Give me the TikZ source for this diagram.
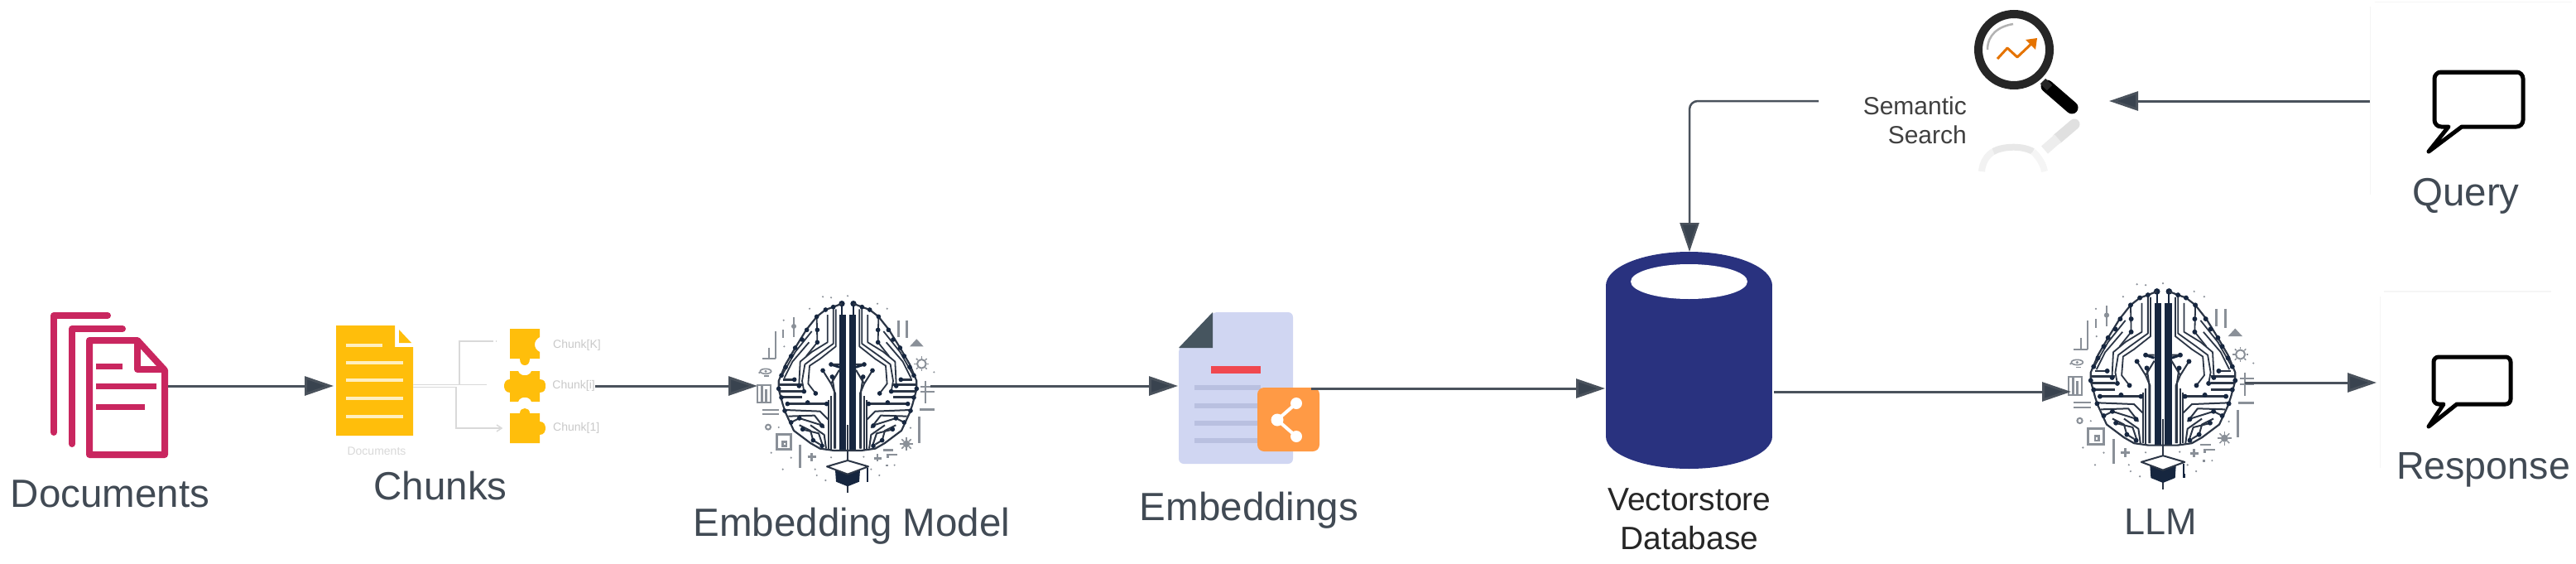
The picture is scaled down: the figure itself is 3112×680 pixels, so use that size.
\documentclass[tikz,border=0pt]{standalone}
\usepackage{fontspec}
\setmainfont{Liberation Sans}
\usetikzlibrary{arrows.meta}
\definecolor{labelc}{HTML}{414A54}
\definecolor{connc}{HTML}{4A525C}
\definecolor{headc}{HTML}{39434F}
\definecolor{crim}{HTML}{C9265F}
\definecolor{amber}{HTML}{FFBE0B}
\definecolor{amberl}{HTML}{FFEFC0}
\definecolor{navy}{HTML}{29327F}
\definecolor{sheet}{HTML}{D0D6F2}
\definecolor{sheetl}{HTML}{B9C0E0}
\definecolor{foldc}{HTML}{46555F}
\definecolor{redbar}{HTML}{F0484F}
\definecolor{badge}{HTML}{FF9A45}
\definecolor{brainc}{HTML}{16263F}
\definecolor{traceg}{HTML}{2C3646}
\definecolor{decog}{HTML}{8A9098}
\definecolor{treeg}{HTML}{D9D9D9}
\definecolor{fainttext}{HTML}{C9C9C9}
\definecolor{panelg}{HTML}{F5F5F5}
\tikzset{
  portbox/.style={inner sep=0pt,outer sep=0pt},
  lbl/.style={anchor=base,inner sep=0pt,text=labelc,font=\fontsize{47.5}{57}\selectfont},
  dbl/.style={anchor=base,inner sep=0pt,text=black!85,font=\fontsize{39}{47}\selectfont},
  sem/.style={anchor=base east,inner sep=0pt,text=black!75,font=\fontsize{30}{36}\selectfont},
  tiny/.style={anchor=west,inner sep=0pt,text=fainttext,font=\fontsize{14}{16}\selectfont},
  conn/.style={draw=connc,line width=3pt,-{Triangle[length=35pt,width=23pt,fill=headc]}},
  tree/.style={draw=treeg,line width=1.5pt},
  docline/.style={draw=crim,line width=8pt,line join=round},
  ambline/.style={draw=amberl,line width=4pt},
  bubble/.style={draw=black,line width=5pt,fill=white,line join=round},
}
\newcommand\brainhalf{%
  \fill[brainc] (6,90) rectangle (30,580);
  \fill[brainc] (21,50) circle (11);
  \draw[brainc,line width=2pt] (21,50) -- (21,90);
  % outline
  \draw[traceg,line width=2.2pt,line join=round] (21,50) -- (52,62) -- (80,72) -- (112,97) -- (150,145) -- (190,210) -- (225,270) -- (250,330) -- (250,360) -- (235,415) -- (225,445) -- (195,510) -- (135,555) -- (100,575) -- (50,582) -- (0,582);
  % long traces from the crown
  \draw[traceg,line width=1.8pt,line join=round] (43,70) -- (43,205) -- (100,250) -- (138,275) -- (143,340) -- (116,375);
  \draw[traceg,line width=1.8pt,line join=round] (52,62) -- (52,195) -- (115,240) -- (155,270) -- (165,330) -- (158,368);
  \draw[traceg,line width=1.8pt,line join=round] (73,90) -- (73,190) -- (130,225) -- (172,260) -- (176,340);
  \draw[traceg,line width=1.8pt,line join=round] (112,97) -- (110,190) -- (150,240);
  \draw[traceg,line width=1.8pt,line join=round] (130,150) -- (190,225) -- (238,310);
  \draw[traceg,line width=1.8pt,line join=round] (140,190) -- (200,260) -- (230,320);
  % short right-angle branches near the bars
  \draw[brainc,line width=3pt] (30,280) -- (60,270);
  \draw[traceg,line width=2pt] (30,290) -- (60,340) (60,270) -- (30,270) (90,292) -- (60,340) -- (45,375) -- (45,575);
  \draw[traceg,line width=2pt] (56,315) -- (48,370) -- (48,575);
  \draw[traceg,line width=2pt] (60,385) -- (60,578) (70,400) -- (70,575);
  % horizontal rungs of the side lobe
  \draw[traceg,line width=3pt] (165,345) -- (248,345) (165,368) -- (250,368) (165,390) -- (245,390);
  \draw[traceg,line width=2.5pt] (193,325) -- (235,325) (76,413) -- (218,413) (145,408) -- (145,413);
  % lower traces
  \draw[traceg,line width=2pt,line join=round] (70,470) -- (100,440) -- (228,435);
  \draw[traceg,line width=2pt,line join=round] (85,500) -- (120,455) -- (215,458);
  \draw[traceg,line width=2pt,line join=round] (95,490) -- (175,465) -- (205,480);
  \draw[traceg,line width=2pt,line join=round] (90,565) -- (105,520) -- (165,505);
  \draw[traceg,line width=2pt,line join=round] (100,560) -- (125,545) -- (135,510) -- (175,490);
  \draw[traceg,line width=2pt,line join=round] (78,575) -- (85,525) -- (135,490);
  % dots
  \foreach \dx/\dy in {52/62,80/72,112/97,110/145,110/190,148/145,165/180,190/210,205/240,225/280,240/310,60/270,90/292,56/315,116/375,158/368,176/348,193/325,250/358,240/390,76/413,145/408,218/413,228/438,175/465,205/480,163/505,93/492,125/545,93/565}
    \fill[brainc] (\dx,\dy) circle (8.5);
}
\newcommand\braindeco{%
  % stem and mortarboard
  \draw[traceg,line width=2pt] (0,490) -- (0,735);
  \fill[brainc] (-45,652) -- (45,652) -- (42,695) -- (0,712) -- (-42,695) -- cycle;
  \draw[traceg,line width=2pt,fill=white,line join=round] (-75,640) -- (0,618) -- (75,640) -- (0,668) -- cycle;
  \draw[brainc,line width=2pt] (72,645) -- (72,690);
  \fill[brainc] (68,680) rectangle (76,695);
  % left side icons
  \draw[decog,line width=1.6pt] (-297,295) ellipse (20 and 9);
  \fill[decog] (-297,295) circle (5);
  \draw[decog,line width=1.6pt] (-302,312) -- (-285,312);
  \draw[decog,line width=2pt] (-328,345) rectangle (-280,408);
  \draw[decog,line width=3pt] (-310,345) -- (-310,408) (-296,360) -- (-296,408);
  \draw[decog,line width=2pt] (-310,250) -- (-260,250) (-262,150) -- (-262,250) (-285,210) -- (-285,250);
  \draw[decog,line width=2pt] (-195,100) -- (-195,170);
  \fill[decog] (-195,132) circle (9);
  \draw[decog,line width=2pt] (-233,145) -- (-233,175) (-310,435) -- (-250,435) (-310,450) -- (-250,450);
  \draw[decog,line width=2pt] (-288,497) circle (9);
  \draw[decog,line width=3pt] (-258,525) rectangle (-205,578);
  \draw[decog,line width=2.5pt] (-235,550) rectangle (-222,566);
  \draw[decog,line width=3pt] (-172,560) -- (-172,645);
  \draw[decog,line width=3pt] (-130,592) -- (-130,622) (-145,606) -- (-115,606);
  % right side icons
  \fill[decog] (225,205) -- (275,205) -- (250,178) -- cycle;
  \draw[decog,line width=2pt] (268,268) circle (16);
  \foreach \ang in {0,45,...,315} \draw[decog,line width=1.5pt] (268,268) ++(\ang:20) -- ++(\ang:7);
  \draw[decog,line width=2pt] (283,330) -- (283,410) (265,350) -- (315,350) (265,370) -- (315,370);
  \draw[decog,line width=3pt] (260,435) -- (315,435);
  \draw[decog,line width=3pt] (258,460) -- (258,555);
  \draw[decog,line width=3pt] (185,110) -- (185,170) (215,110) -- (215,175);
  \fill[decog] (213,558) circle (13);
  \foreach \ang in {0,45,...,315} \draw[decog,line width=1.5pt] (213,558) ++(\ang:13) -- ++(\ang:11);
  \draw[decog,line width=2.5pt] (128,580) -- (165,580) (140,597) -- (180,597) (145,597) -- (145,610);
  \draw[decog,line width=2.5pt] (108,595) -- (108,622) (95,610) -- (122,610) (142,632) -- (142,640);
  % scattered dots
  \foreach \dx/\dy in {-60/28,0/22,108/50,143/68,-90/25,-138/68,-230/205,-232/110,313/298,-277/590,-205/608,-250/498,-60/607,58/605,-112/672,115/672,170/635,-80/690,228/500,-118/650,-235/650,85/650,-320/300}
    \fill[decog] (\dx,\dy) circle (3.5);
}
\newcommand\brainart[3]{%
  \begin{scope}[shift={(#1,#2)},scale=#3]
    \brainhalf
    \begin{scope}[xscale=-1]\brainhalf\end{scope}
    \braindeco
  \end{scope}}
\begin{document}
\begin{tikzpicture}[x=1pt,y=-1pt]
\useasboundingbox (0,0) rectangle (3112,680);
\fill[white] (0,0) rectangle (3112,680);
% faint panel edges
\draw[panelg,line width=1pt] (2869,2) -- (3107,2) (2863,8) -- (2863,235);
\draw[panelg,line width=2pt] (2880,352) -- (3082,352);
\draw[panelg,line width=1pt] (2875,358) -- (2875,565);

% anchor boxes for the connectors
\node[portbox,minimum width=99pt,minimum height=146pt] (docs) at (153.5,466) {};
\node[portbox,minimum width=96pt,minimum height=133pt] (chunksrc) at (451,466) {};
\node[portbox,minimum width=209pt,minimum height=230pt] (embm) at (1019.5,466) {};
\node[portbox,minimum width=161pt,minimum height=183pt] (embs) at (1503.5,466) {};
\node[portbox,minimum width=204pt,minimum height=330pt] (db) at (2041,469) {};
\node[portbox,minimum width=210pt,minimum height=240pt] (llm) at (2607,473) {};
\node[portbox,minimum width=180pt,minimum height=110pt] (resp) at (2961,462) {};
\node[portbox,minimum width=351pt,minimum height=120pt] (semb) at (2372.5,122) {};
\node[portbox,minimum width=200pt,minimum height=120pt] (qry) at (2963,122) {};

% Documents icon
\draw[docline,line cap=round] (65,522) -- (65,381) -- (130,381);
\draw[docline,line cap=round] (87,536) -- (87,397) -- (148,397);
\draw[docline] (108,411) -- (166,411) -- (199,447) -- (199,549) -- (108,549) -- cycle;
\draw[docline] (166,411) -- (166,446) -- (199,446);
\draw[crim,line width=7pt] (116,442) -- (148,442) (116,466) -- (189,466) (116,491) -- (175,491);
\node[lbl] (tdocs) at (133,612) {Documents};

% Chunks source document
\fill[amber] (406,393) -- (477,393) -- (477,419) -- (499,419) -- (499,526) -- (406,526) -- cycle;
\fill[amber] (482,398) -- (497,414) -- (482,414) -- cycle;
\draw[ambline] (418,417) -- (462,417) (418,438) -- (487,438) (418,459) -- (487,459) (418,481) -- (487,481) (418,503) -- (487,503);
\node[anchor=center,inner sep=0pt,text=black!15,font=\fontsize{14}{16}\selectfont] (tdocfaint) at (455,545) {Documents};
% light tree
\draw[tree] (chunksrc.east) ++(0,-1.5) -- (555,464.5) -- (555,412) -- (593,412);
\draw[tree] (555,464.5) -- (588,464.5);
\draw[tree,dashed] (593,412) -- (600,412);
\draw[tree] (chunksrc.east) ++(0,1.5) -- (551,467.5) -- (551,517) -- (604,517);
\draw[tree] (600,513) -- (606,517) -- (600,521);
% puzzle pieces
\fill[amber] (616,397) -- (652,397) -- (652,407) .. controls (644,411) and (644,421) .. (652,425) -- (652,433) -- (640,433) .. controls (640,439) and (637,441) .. (634,441) .. controls (631,441) and (628,439) .. (628,433) -- (616,433) -- cycle;
\fill[amber] (616,448) -- (626,448) .. controls (628,455) and (640,455) .. (642,448) -- (652,448) -- (652,458) .. controls (658,458) and (659,462) .. (659,466) .. controls (659,470) and (658,474) .. (652,474) -- (652,485) -- (642,485) .. controls (640,478) and (628,478) .. (626,485) -- (616,485) -- (616,474) .. controls (611,474) and (609,470) .. (609,466) .. controls (609,462) and (611,458) .. (616,458) -- cycle;
\fill[amber] (616,499) -- (628,499) .. controls (628,495) and (631,493) .. (634,493) .. controls (637,493) and (640,495) .. (640,499) -- (652,499) -- (652,509) .. controls (657,509) and (659,513) .. (659,517) .. controls (659,521) and (657,525) .. (652,525) -- (652,535) -- (616,535) -- cycle;
\node[tiny] (ck) at (668,417) {Chunk[K]};
\node[tiny,anchor=east] (ci) at (719,466) {Chunk[i]};
\node[tiny] (c1) at (668,517) {Chunk[1]};
\node[lbl] (tchunks) at (532,603) {Chunks};

% Embedding model
\brainart{1024}{350}{0.3333}
\node[lbl] (tembm) at (1029,647) {Embedding Model};

% Embeddings icon
\fill[sheet,rounded corners=6pt] (1465,377) -- (1562,377) -- (1562,560) -- (1424,560) -- (1424,420) -- cycle;
\fill[foldc] (1465,377) -- (1465,420) -- (1424,420) -- cycle;
\fill[redbar] (1463,442) rectangle (1523,451);
\draw[sheetl,line width=6pt] (1443,468) -- (1523,468) (1443,490) -- (1523,490) (1443,511) -- (1523,511) (1443,532) -- (1523,532);
\fill[badge,rounded corners=8pt] (1519,468) rectangle (1594,545);
\draw[white,line width=4pt] (1566,487) -- (1543,507) -- (1566,527);
\fill[white] (1566,487) circle (7) (1543,507) circle (7.5) (1566,527) circle (7);
\node[lbl] (tembs) at (1509,628) {Embeddings};

% Vectorstore
\fill[navy] (2040.5,345) ellipse (100.5 and 41);
\fill[navy] (2040.5,527) ellipse (100.5 and 39);
\fill[navy] (1940,345) rectangle (2141,527);
\fill[white] (2040.5,340) ellipse (70.5 and 21);
\node[dbl] (tdb1) at (2041,616) {Vectorstore};
\node[dbl] (tdb2) at (2041,663) {Database};

% LLM
\brainart{2613}{334.5}{0.349}
\node[lbl,font=\fontsize{45}{54}\selectfont] (tllm) at (2610,645) {LLM};

% Response bubble
\draw[bubble] (2946,431) -- (3027,431) to[out=0,in=90] (3033,437) -- (3033,482) to[out=-90,in=0] (3027,488) -- (2968,488) -- (2934,515) -- (2952,488) -- (2946,488) to[out=180,in=-90] (2940,482) -- (2940,437) to[out=90,in=180] cycle;
\node[lbl,font=\fontsize{46.6}{56}\selectfont] (tresp) at (3000,578) {Response};

% Query bubble
\draw[bubble] (2949,87) -- (3040,87) to[out=0,in=90] (3048,95) -- (3048,145) to[out=-90,in=0] (3040,153) -- (2974,153) -- (2934,183) -- (2958,153) -- (2949,153) to[out=180,in=-90] (2941,145) -- (2941,95) to[out=90,in=180] cycle;
\fill[black] (2945,85) rectangle (3044,90);
\node[lbl] (tqry) at (2979,248) {Query};

% Semantic search
\node[sem] (ts1) at (2376,138) {Semantic};
\node[sem] (ts2) at (2376,173) {Search};
\draw[black!85,line width=10pt] (2433,60) circle (43);
\draw[black!30,line width=2.5pt] (2401,60) .. controls (2401,42) and (2414,32) .. (2432,29);
\draw[black,line width=15pt,line cap=round] (2473,104) -- (2503,130);
\draw[black!85,line width=9pt] (2468,98) -- (2476,106);
\draw[orange!90!black,line width=3pt,line join=round] (2413,71) -- (2425,58) -- (2437,69) -- (2456,51);
\fill[orange!90!black] (2447,48) -- (2461,46) -- (2459,60) -- cycle;
% reflection
\draw[black!12,line width=13pt,line cap=round] (2506,150) -- (2486,167);
\draw[black!7,line width=12pt] (2486,167) -- (2470,181);
\draw[black!5,line width=8pt] (2394,207) .. controls (2395,196) and (2400,188) .. (2408,183);
\draw[black!9,line width=8pt] (2408,183) .. controls (2418,177) and (2442,175) .. (2456,183);
\draw[black!4,line width=8pt] (2456,183) .. controls (2463,190) and (2468,197) .. (2470,207);

% connectors
\draw[conn] (docs.east) -- (chunksrc.west);
\draw[conn] (ci.east) -- (embm.west);
\draw[conn] (embm.east) -- (embs.west);
\draw[conn] (embs.east |- db.west) -- (db.west);
\draw[conn] (db.east |- llm.west) -- (llm.west);
\draw[conn] (llm.east |- resp.west) -- (resp.west);
\draw[conn] (qry.west) -- (semb.east);
\draw[conn,line width=2.5pt,rounded corners=10pt] (semb.west) -| (db.north);
\end{tikzpicture}
\end{document}
